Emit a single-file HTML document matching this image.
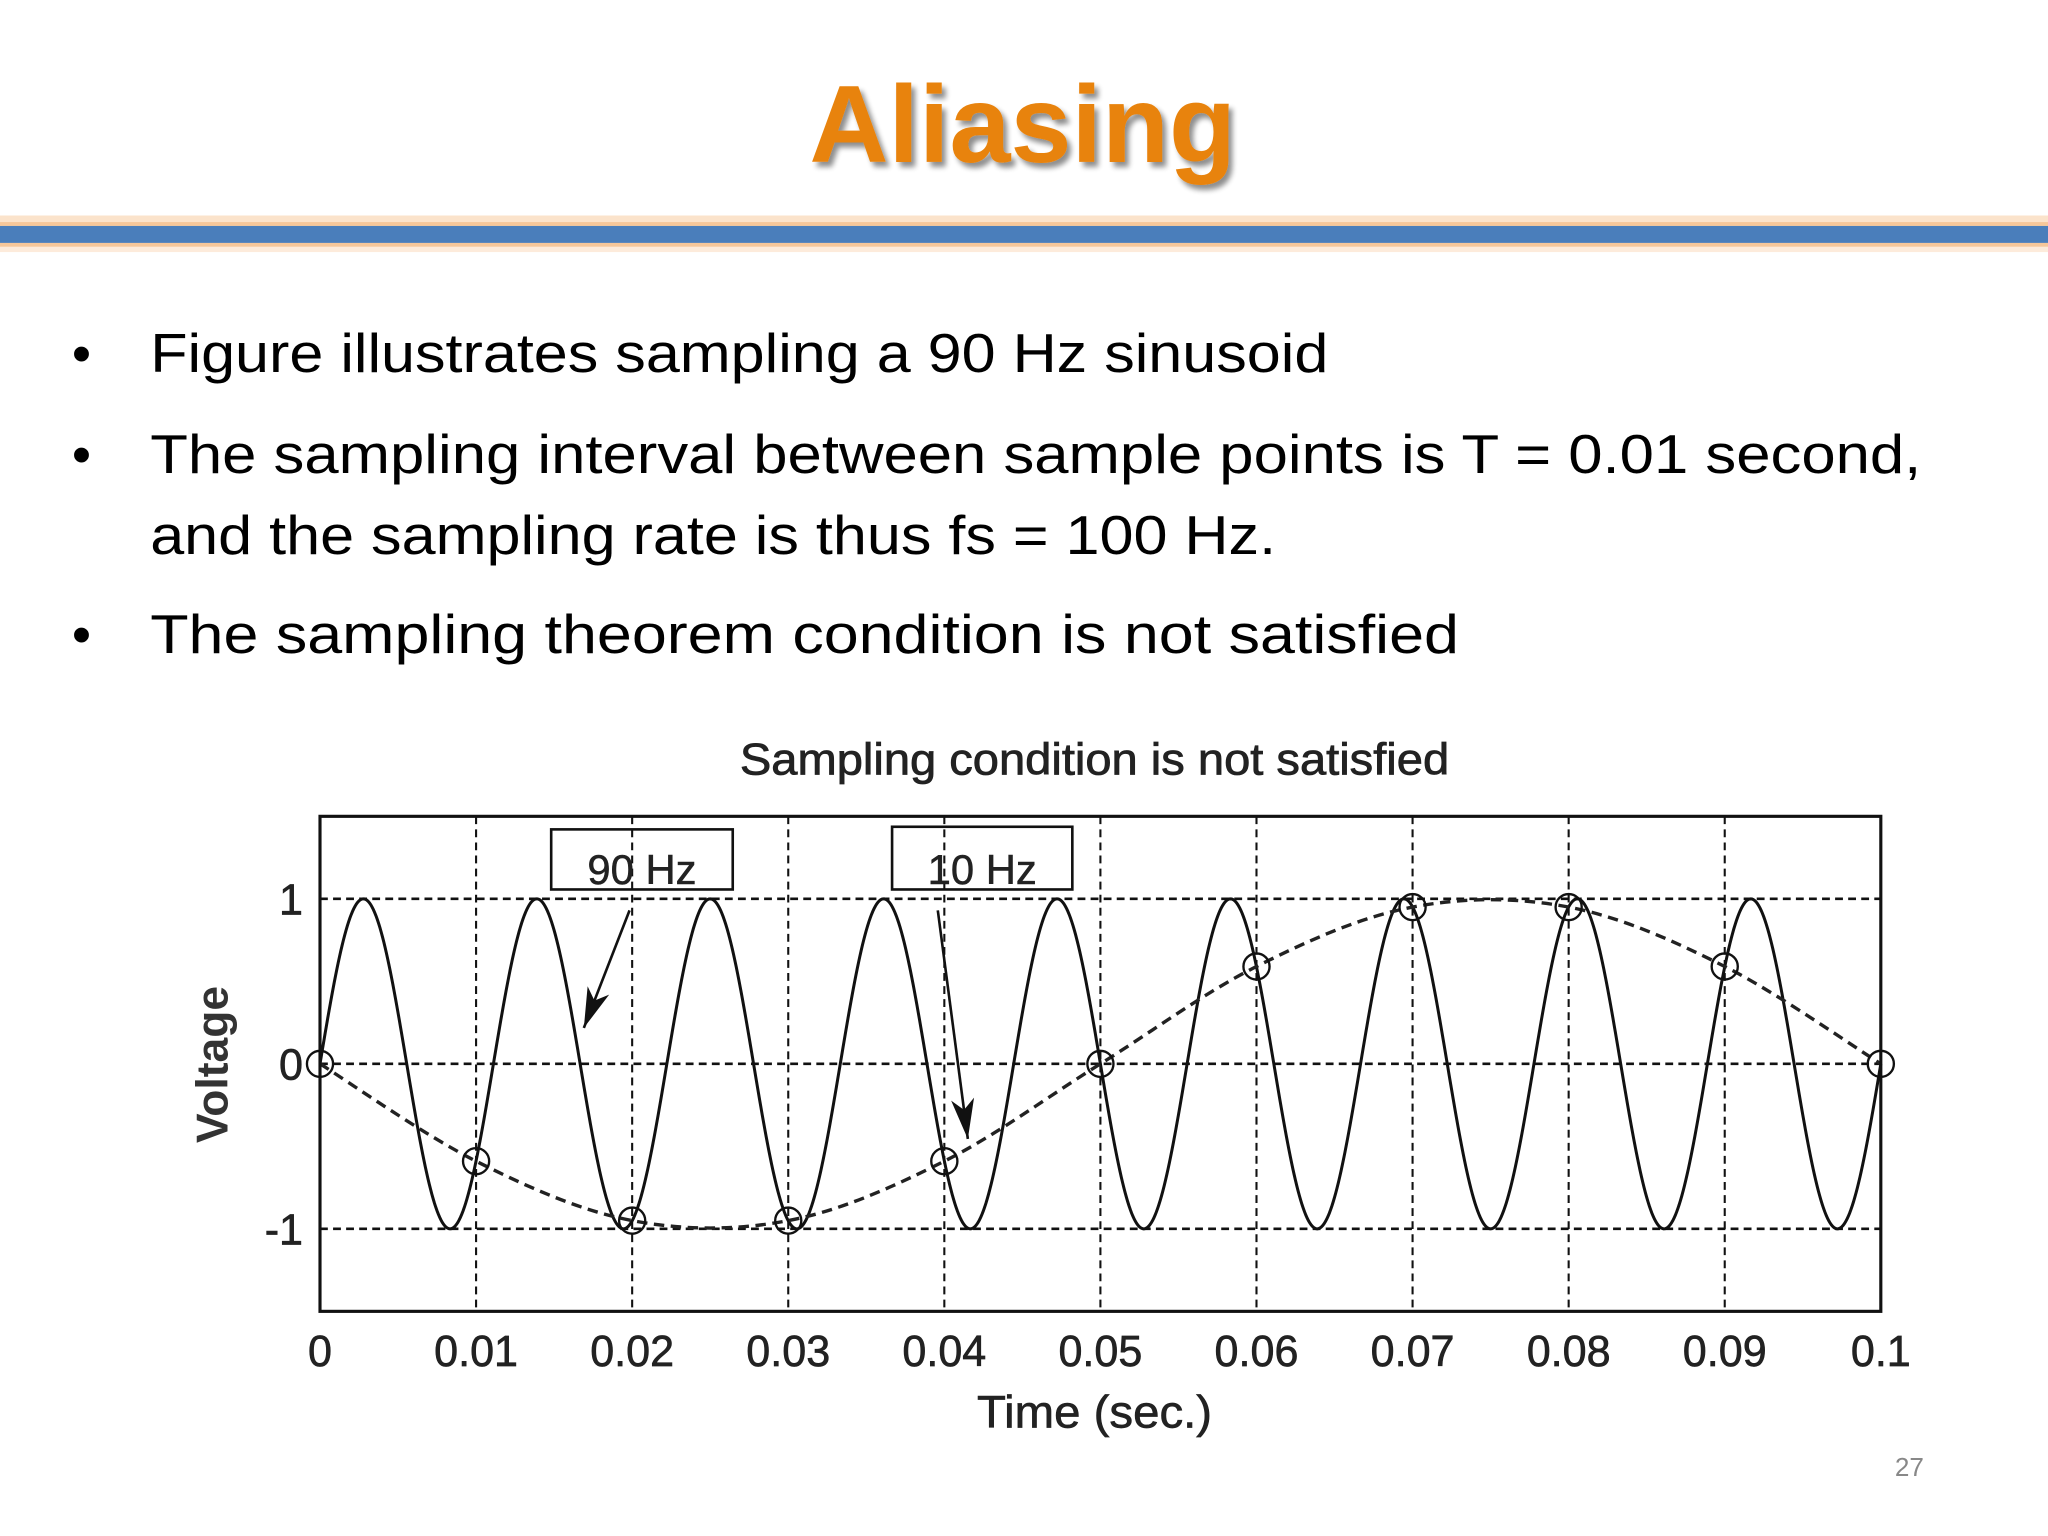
<!DOCTYPE html>
<html><head><meta charset="utf-8"><style>
html,body{margin:0;padding:0;background:#fff;}
svg{display:block;}
</style></head><body>
<svg id="slide" width="2048" height="1536" viewBox="0 0 1568 1176" xmlns="http://www.w3.org/2000/svg">
  <defs>
    <filter id="sh" x="-10%" y="-10%" width="130%" height="140%">
      <feGaussianBlur in="SourceAlpha" stdDeviation="2"/>
      <feOffset dx="3" dy="4" result="o"/>
      <feComponentTransfer><feFuncA type="linear" slope="0.45"/></feComponentTransfer>
      <feMerge><feMergeNode/><feMergeNode in="SourceGraphic"/></feMerge>
    </filter>
  </defs>
  <rect width="1568" height="1176" fill="#fff"/>
  <text x="783" y="124" text-anchor="middle" font-family="Liberation Sans, Arial, sans-serif" font-weight="bold" font-size="84" fill="#E8830E" filter="url(#sh)">Aliasing</text>
  <g>
    <rect x="0" y="165" width="1568" height="5" fill="#FBE3CB"/>
    <rect x="0" y="170" width="1568" height="3" fill="#F6C79A"/>
    <rect x="0" y="173" width="1568" height="13" fill="#4A7EBB"/>
    <rect x="0" y="186" width="1568" height="3" fill="#F6C79A"/>
    <rect x="0" y="189" width="1568" height="4" fill="#FDEBDB"/>
  </g>
  <g font-family="Liberation Sans, Arial, sans-serif" font-size="42" fill="#000">
    <text x="55" y="285">•</text>
    <text x="115" y="285" textLength="902" lengthAdjust="spacingAndGlyphs">Figure illustrates sampling a 90 Hz sinusoid</text>
    <text x="55" y="362">•</text>
    <text x="115" y="362" textLength="1356" lengthAdjust="spacingAndGlyphs">The sampling interval between sample points is T = 0.01 second,</text>
    <text x="115" y="424" textLength="862" lengthAdjust="spacingAndGlyphs">and the sampling rate is thus fs = 100 Hz.</text>
    <text x="55" y="500">•</text>
    <text x="115" y="500" textLength="1002" lengthAdjust="spacingAndGlyphs">The sampling theorem condition is not satisfied</text>
  </g>
  <text x="1473" y="1130" text-anchor="end" font-family="Liberation Sans, Arial, sans-serif" font-size="20" fill="#888">27</text>
  <g id="chart"></g>
</svg>
<script>
const xTicks = [0, 0.01, 0.02, 0.03, 0.04, 0.05, 0.06, 0.07, 0.08, 0.09, 0.1];
const xTickLabels = ["0","0.01","0.02","0.03","0.04","0.05","0.06","0.07","0.08","0.09","0.1"];
const yTicks = [1, 0, -1];
const yTickLabels = ["1","0","-1"];
const signalFrequency = [90];
const signalAmplitude = [1];
const sampleTimes = [0, 0.01, 0.02, 0.03, 0.04, 0.05, 0.06, 0.07, 0.08, 0.09, 0.1];
const sampleValues = [0, -0.59, -0.95, -0.95, -0.59, 0, 0.59, 0.95, 0.95, 0.59, 0];

const NS = "http://www.w3.org/2000/svg";
const L = 245, R = 1440, T = 625, B = 1004;
const xMin = 0, xMax = 0.1, yMin = -1.5, yMax = 1.5;
const xs = t => L + (t - xMin) / (xMax - xMin) * (R - L);
const ys = v => B - (v - yMin) / (yMax - yMin) * (B - T);
const chart = document.getElementById('chart');
function mk(tag, attrs, parent) {
  const e = document.createElementNS(NS, tag);
  for (const k in attrs) e.setAttribute(k, attrs[k]);
  (parent || chart).appendChild(e);
  return e;
}
const FONT = "Liberation Sans, Arial, sans-serif";

let t = mk('text', {x: 838, y: 593, 'text-anchor': 'middle', 'font-family': FONT, 'font-size': 34, fill: '#222', stroke: '#222', 'stroke-width': 0.6, textLength: 543, lengthAdjust: 'spacingAndGlyphs'});


t.textContent = 'Sampling condition is not satisfied';

xTicks.forEach((v, i) => {
  const g = mk('line', {x1: xs(v), x2: xs(v), y1: T, y2: B, stroke: '#111', 'stroke-width': 1.6, 'stroke-dasharray': '6 4'});
  
  
  const lb = mk('text', {x: xs(v), y: 1046, 'text-anchor': 'middle', 'font-family': FONT, 'font-size': 33, fill: '#222', stroke: '#222', 'stroke-width': 0.5});
  
  
  lb.textContent = xTickLabels[i];
});
yTicks.forEach((v, i) => {
  const g = mk('line', {x1: L, x2: R, y1: ys(v), y2: ys(v), stroke: '#111', 'stroke-width': 2, 'stroke-dasharray': '6 4'});
  
  
  const lb = mk('text', {x: 232, y: ys(v) + 12, 'text-anchor': 'end', 'font-family': FONT, 'font-size': 33, fill: '#222', stroke: '#222', 'stroke-width': 0.5});
  
  
  lb.textContent = yTickLabels[i];
});

let d = '';
for (let k = 0; k <= 1200; k++) {
  const tt = xMin + (xMax - xMin) * k / 1200;
  const v = signalAmplitude[0] * Math.sin(2 * Math.PI * signalFrequency[0] * tt);
  d += (k ? 'L' : 'M') + xs(tt).toFixed(2) + ' ' + ys(v).toFixed(2);
}
const sig = mk('path', {d: d, fill: 'none', stroke: '#111', 'stroke-width': 2.3});



const pts = sampleTimes.map((tt, i) => [xs(tt), ys(sampleValues[i])]);
let ad = 'M' + pts[0][0] + ' ' + pts[0][1];
for (let i = 0; i < pts.length - 1; i++) {
  const p0 = pts[Math.max(i - 1, 0)], p1 = pts[i], p2 = pts[i + 1], p3 = pts[Math.min(i + 2, pts.length - 1)];
  const c1 = [p1[0] + (p2[0] - p0[0]) / 6, p1[1] + (p2[1] - p0[1]) / 6];
  const c2 = [p2[0] - (p3[0] - p1[0]) / 6, p2[1] - (p3[1] - p1[1]) / 6];
  ad += 'C' + c1.join(' ') + ' ' + c2.join(' ') + ' ' + p2.join(' ');
}
const al = mk('path', {d: ad, fill: 'none', stroke: '#222', 'stroke-width': 2.6, 'stroke-dasharray': '8 5'});



pts.forEach(p => {
  const c = mk('circle', {cx: p[0], cy: p[1], r: 10, fill: 'none', stroke: '#111', 'stroke-width': 1.8});
  
  
});

const fr = mk('rect', {x: L, y: T, width: R - L, height: B - T, fill: 'none', stroke: '#111', 'stroke-width': 2.4});



function box(x, y, w, h, label, name) {
  const g = mk('g', {});
  
  
  mk('rect', {x: x, y: y, width: w, height: h, fill: 'none', stroke: '#111', 'stroke-width': 2}, g);
  const tx = mk('text', {x: x + w / 2, y: y + h - 4, 'text-anchor': 'middle', 'font-family': FONT, 'font-size': 32, fill: '#222', stroke: '#222', 'stroke-width': 0.4}, g);
  tx.textContent = label;
}
box(422, 635, 139, 46, '90 Hz', 'label-90hz');
box(683, 633, 138, 48, '10 Hz', 'label-10hz');
function arrow(x1, y1, x2, y2, name) {
  const g = mk('g', {});
  
  
  mk('line', {x1: x1, y1: y1, x2: x2, y2: y2, stroke: '#111', 'stroke-width': 2}, g);
  const a = Math.atan2(y2 - y1, x2 - x1), len = 32, w = 0.28;
  const p1 = [x2 - len * Math.cos(a - w), y2 - len * Math.sin(a - w)];
  const p2 = [x2 - len * 0.7 * Math.cos(a), y2 - len * 0.7 * Math.sin(a)];
  const p3 = [x2 - len * Math.cos(a + w), y2 - len * Math.sin(a + w)];
  mk('polygon', {points: [[x2, y2], p1, p2, p3].map(p => p.join(',')).join(' '), fill: '#111'}, g);
}
arrow(482, 697, 447, 787, 'arrow-90hz');
arrow(718, 697, 741, 872, 'arrow-10hz');

const xl = mk('text', {x: 838, y: 1093, 'text-anchor': 'middle', 'font-family': FONT, 'font-size': 35, fill: '#222', stroke: '#222', 'stroke-width': 0.5, textLength: 180, lengthAdjust: 'spacingAndGlyphs'});


xl.textContent = 'Time (sec.)';
const yl = mk('text', {x: 0, y: 0, 'text-anchor': 'middle', 'font-family': FONT, 'font-size': 34, 'font-weight': 'bold', fill: '#333', transform: 'translate(174,815) rotate(-90)'});


yl.textContent = 'Voltage';
</script>
</body></html>
